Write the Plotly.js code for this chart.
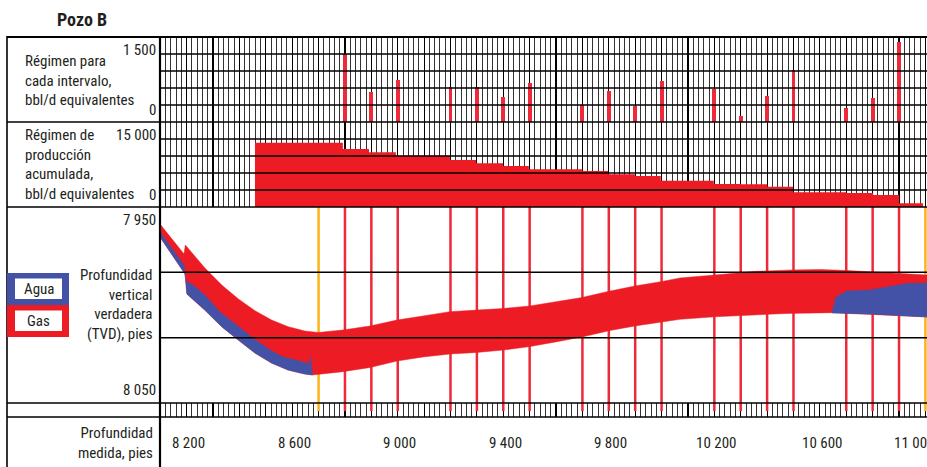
<!DOCTYPE html>
<html>
<head>
<meta charset="utf-8">
<script src="https://cdn.plot.ly/plotly-3.0.1.min.js"></script>
<style>html,body{margin:0;padding:0;background:#fff;}#chart{width:927px;height:467px;}</style>
</head>
<body>
<div id="chart"></div>
<script>
// ---------------- DATA ----------------
// Perforated intervals (measured depth, ft)
const perfMD = [8800, 8900, 9000, 9200, 9300, 9400, 9500, 9700, 9800, 9900, 10000, 10200, 10300, 10400, 10500, 10700, 10800, 10900];
// Rate for each interval, bbl/d equivalent
const intervalRate = [1200, 535, 741, 612, 612, 447, 682, 300, 553, 282, 729, 582, 106, 459, 918, 247, 424, 1412];
// Boundary markers (orange)
const boundaryMD = [8700, 11000];
// Cumulative production rate (step profile)
const cumMD  = [8459, 8792, 8891, 8993, 9198, 9297, 9399, 9497, 9698, 9797, 9899, 9997, 10198, 10301, 10400, 10498, 10699, 10802, 10900, 10991];
const cumVal = [11350, 10235, 9650, 9060, 8294, 7710, 7235, 6650, 6353, 5765, 5470, 4640, 4060, 4000, 3590, 2590, 2470, 2120, 650, 650];
// Well path band - gas (upper and lower edges)
const gasTopMD  = [8099, 8190, 8195, 8269, 8333, 8396, 8459, 8522, 8585, 8648, 8698, 8792, 8895, 8997, 9096, 9198, 9300, 9399, 9501, 9604, 9698, 9797, 9899, 10002, 10070, 10203, 10347, 10498, 10601, 10703, 10802, 10904, 11006];
const gasTopTVD = [7958.7, 7974.0, 7969.4, 7981.1, 7989.8, 7996.9, 8002.9, 8007.7, 8011.1, 8013.3, 8014.0, 8012.8, 8010.7, 8007.7, 8005.6, 8003.4, 8002.6, 8001.8, 8000.5, 7998.3, 7996.2, 7993.1, 7990.3, 7988.0, 7986.2, 7984.7, 7982.9, 7982.1, 7981.9, 7982.4, 7983.2, 7983.9, 7984.7];
const gasBotMD  = [8099, 8194, 8201, 8269, 8333, 8396, 8459, 8522, 8585, 8648, 8677, 8792, 8895, 8997, 9096, 9198, 9300, 9399, 9501, 9604, 9702, 9805, 9899, 10002, 10070, 10203, 10347, 10476, 10650, 10790, 11006];
const gasBotTVD = [7965.3, 7984.2, 7994.4, 8002.6, 8011.1, 8017.9, 8024.5, 8029.6, 8033.2, 8035.2, 8035.7, 8034.0, 8031.9, 8028.6, 8026.5, 8025.0, 8024.2, 8023.0, 8021.2, 8018.7, 8016.2, 8013.0, 8010.7, 8008.5, 8007.3, 8006.0, 8005.1, 8004.3, 8003.9, 8004.6, 8006.1];
// Water, heel section
const waterLTopMD  = [8099, 8190, 8197, 8224, 8269, 8326, 8394, 8451, 8516, 8565, 8629, 8664, 8669, 8675];
const waterLTopTVD = [7962.8, 7979.6, 7987.8, 7989.8, 7994.9, 8003.6, 8010.7, 8016.8, 8023.0, 8026.5, 8028.6, 8030.1, 8026.0, 8035.7];
const waterLBotMD  = [8099, 8194, 8201, 8269, 8333, 8396, 8459, 8522, 8585, 8648, 8677];
const waterLBotTVD = [7965.3, 7984.2, 7994.4, 8002.6, 8011.1, 8017.9, 8024.5, 8029.6, 8033.2, 8035.2, 8035.7];
// Water, toe section
const waterRTopMD  = [10646, 10661, 10703, 10790, 10855, 10931, 11006];
const waterRTopTVD = [8003.6, 7995.9, 7992.9, 7992.3, 7990.8, 7989.0, 7988.8];
const waterRBotMD  = [10646, 10790, 11006];
const waterRBotTVD = [8004.1, 8004.6, 8006.1];
// Axis ticks / labels
const mdTickVals = [8200, 8600, 9000, 9400, 9800, 10200, 10600, 11000];
const mdTickText = ['8 200', '8 600', '9 000', '9 400', '9 800', '10 200', '10 600', '11 000'];
const rateGrid = [300, 600, 900, 1200];
const rateLabels = ['1 500', '0'];
const cumGrid = [3000, 6000, 9000, 12000];
const cumLabels = ['15 000', '0'];
const tvdGrid = [7983.3, 8016.7];
const tvdLabels = ['7 950', '8 050'];
const legendNames = ['Agua', 'Gas'];

// ---------------- LAYOUT HELPERS ----------------
const W = 927, H = 467;
const F = "'Roboto Condensed', 'Liberation Sans Narrow', 'DejaVu Sans Condensed', sans-serif";
const FS = 15;
const TXT = '#231f20';
const RED = '#ed1c24', PERF = '#ee2a3a', BLUE = '#4352a6', ORANGE = '#fbb416';
const px = p => p / W, py = p => 1 - p / H;

function polyX(a, b) { return a.concat(b.slice().reverse()); }
function seg(xs, y0, y1) { const X = [], Y = []; xs.forEach(v => { X.push(v, v, null); Y.push(y0, y1, null); }); return {X, Y}; }

const pr = seg(perfMD, 7950, 8050), po = seg(boundaryMD, 7950, 8050);
const sr = seg(perfMD, 1, 0.42), so = seg(boundaryMD, 1, 0.42);

const traces = [
  {type: 'bar', x: perfMD, y: intervalRate, width: 15, marker: {color: PERF, line: {width: 0}}, xaxis: 'x', yaxis: 'y', hoverinfo: 'skip'},
  {type: 'scatter', x: cumMD, y: cumVal, mode: 'lines', line: {shape: 'hv', width: 0, color: RED}, fill: 'tozeroy', fillcolor: RED, xaxis: 'x', yaxis: 'y2', hoverinfo: 'skip'},
  {type: 'scatter', x: pr.X, y: pr.Y, mode: 'lines', line: {color: PERF, width: 2.5}, xaxis: 'x2', yaxis: 'y3', hoverinfo: 'skip'},
  {type: 'scatter', x: po.X, y: po.Y, mode: 'lines', line: {color: ORANGE, width: 2.5}, xaxis: 'x2', yaxis: 'y3', hoverinfo: 'skip'},
  {type: 'scatter', x: sr.X, y: sr.Y, mode: 'lines', line: {color: PERF, width: 2.5}, xaxis: 'x', yaxis: 'y4', hoverinfo: 'skip'},
  {type: 'scatter', x: so.X, y: so.Y, mode: 'lines', line: {color: ORANGE, width: 2.5}, xaxis: 'x', yaxis: 'y4', hoverinfo: 'skip'},
  {type: 'scatter', x: polyX(gasTopMD, gasBotMD), y: polyX(gasTopTVD, gasBotTVD), mode: 'lines', fill: 'toself', fillcolor: RED, line: {color: RED, width: 0.5}, xaxis: 'x2', yaxis: 'y3', hoverinfo: 'skip'},
  {type: 'scatter', x: polyX(waterLTopMD, waterLBotMD), y: polyX(waterLTopTVD, waterLBotTVD), mode: 'lines', fill: 'toself', fillcolor: BLUE, line: {color: BLUE, width: 0.5}, xaxis: 'x2', yaxis: 'y3', hoverinfo: 'skip'},
  {type: 'scatter', x: polyX(waterRTopMD, waterRBotMD), y: polyX(waterRTopTVD, waterRBotTVD), mode: 'lines', fill: 'toself', fillcolor: BLUE, line: {color: BLUE, width: 0.5}, xaxis: 'x2', yaxis: 'y3', hoverinfo: 'skip'}
];

const xr = [8099, 11006];
const yBase = {showgrid: false, zeroline: false, showticklabels: false, ticks: '', showline: false, fixedrange: true};

const shapes = [];
// horizontal grid lines drawn above the fills
rateGrid.forEach(v => shapes.push({type: 'line', xref: 'paper', yref: 'y', x0: px(160), x1: 1, y0: v, y1: v, line: {color: '#000', width: 1.3}, layer: 'above'}));
cumGrid.forEach(v => shapes.push({type: 'line', xref: 'paper', yref: 'y2', x0: px(160), x1: 1, y0: v, y1: v, line: {color: '#000', width: 1.3}, layer: 'above'}));
tvdGrid.forEach(v => shapes.push({type: 'line', xref: 'paper', yref: 'y3', x0: px(160), x1: 1, y0: v, y1: v, line: {color: '#000', width: 1.3}, layer: 'above'}));
// frame
[37, 122, 207, 403, 417].forEach(p => shapes.push({type: 'line', xref: 'paper', yref: 'paper', x0: px(7), x1: 1, y0: py(p), y1: py(p), line: {color: '#000', width: p === 37 ? 2 : 1.6}, layer: 'above'}));
shapes.push({type: 'line', xref: 'paper', yref: 'paper', x0: px(7), x1: px(7), y0: py(36), y1: 0, line: {color: '#000', width: 1.6}, layer: 'above'});
shapes.push({type: 'line', xref: 'paper', yref: 'paper', x0: px(160), x1: px(160), y0: py(36), y1: 0, line: {color: '#000', width: 2.2}, layer: 'above'});
// legend boxes
const legCol = [BLUE, RED];
legendNames.forEach((n, i) => {
  const t = 273 + i * 32;
  shapes.push({type: 'rect', xref: 'paper', yref: 'paper', x0: px(7), x1: px(69), y0: py(t + 32), y1: py(t), fillcolor: legCol[i], line: {width: 0}, layer: 'above'});
  shapes.push({type: 'rect', xref: 'paper', yref: 'paper', x0: px(15), x1: px(62), y0: py(t + 26), y1: py(t + 5.5), fillcolor: '#fff', line: {width: 0}, layer: 'above'});
});

function ann(text, xp, yp, xanchor, align, size) {
  return {text, xref: 'paper', yref: 'paper', x: px(xp), y: py(yp), xanchor, yanchor: 'middle', align, showarrow: false, font: {family: F, size: size || FS, color: TXT}};
}
const annotations = [
  ann('Régimen para<br>cada intervalo,<br>bbl/d equivalentes', 23, 81, 'left', 'left'),
  ann(rateLabels[0], 158, 50, 'right', 'right'),
  ann(rateLabels[1], 158, 110, 'right', 'right'),
  ann('Régimen de<br>producción<br>acumulada,<br>bbl/d equivalentes', 23, 164, 'left', 'left'),
  ann(cumLabels[0], 158, 135, 'right', 'right'),
  ann(cumLabels[1], 158, 195, 'right', 'right'),
  ann('Profundidad<br>vertical<br>verdadera<br>(TVD), pies', 155, 304.5, 'right', 'right'),
  ann(tvdLabels[0], 158, 220, 'right', 'right'),
  ann(tvdLabels[1], 158, 390, 'right', 'right'),
  ann('Profundidad<br>medida, pies', 155, 442.5, 'right', 'right'),
  ann(legendNames[0], 38.5, 288.5, 'center', 'center'),
  ann(legendNames[1], 38.5, 321, 'center', 'center')
];
mdTickVals.forEach((v, i) => annotations.push({text: mdTickText[i], xref: 'x', yref: 'paper', x: v, y: py(443), xanchor: 'center', yanchor: 'middle', xshift: i === mdTickVals.length - 1 ? -11 : 2, showarrow: false, font: {family: F, size: FS, color: TXT}}));

const layout = {
  width: W, height: H, autosize: false,
  margin: {l: 0, r: 0, t: 0, b: 0, pad: 0},
  paper_bgcolor: '#fff', plot_bgcolor: '#fff',
  showlegend: false,
  title: {text: '<b>Pozo B</b>', x: px(57), xanchor: 'left', xref: 'paper', y: py(20), yanchor: 'middle', yref: 'paper', font: {family: F, size: 18, color: TXT}},
  xaxis: {domain: [px(160), 1], range: xr, anchor: 'y4', showticklabels: false, ticks: '', zeroline: false, showline: false, fixedrange: true,
          tickmode: 'linear', tick0: 8000, dtick: 100, showgrid: true, gridcolor: '#000', gridwidth: 1.2,
          minor: {tickmode: 'linear', tick0: 8000, dtick: 20, showgrid: true, gridcolor: '#333', gridwidth: 1}},
  xaxis2: Object.assign({}, yBase, {domain: [px(160), 1], matches: 'x', range: xr, anchor: 'y3'}),
  yaxis: Object.assign({}, yBase, {domain: [py(122), py(37)], range: [0, 1500], anchor: 'x'}),
  yaxis2: Object.assign({}, yBase, {domain: [py(207), py(122)], range: [0, 15000], anchor: 'x'}),
  yaxis3: Object.assign({}, yBase, {domain: [py(403), py(207)], range: [8050, 7950], anchor: 'x2'}),
  yaxis4: Object.assign({}, yBase, {domain: [py(417), py(403)], range: [0, 1], anchor: 'x'}),
  bargap: 0,
  shapes, annotations
};

Plotly.newPlot('chart', traces, layout, {staticPlot: true, displayModeBar: false});
</script>
</body>
</html>
